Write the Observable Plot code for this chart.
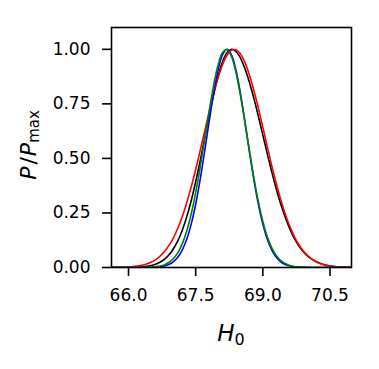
<!DOCTYPE html>
<html>
<head>
<meta charset="utf-8">
<script src="https://cdn.jsdelivr.net/npm/d3@7"></script>
<script src="https://cdn.jsdelivr.net/npm/@observablehq/plot@0.6"></script>
<style>
  html, body { margin: 0; padding: 0; background: #fff; }
</style>
</head>
<body>
<div id="chart"></div>
<script>
// H0 grid (x values)
const h0 = [65.6,65.7,65.8,65.9,66.0,66.1,66.2,66.3,66.4,66.5,66.6,66.7,66.8,66.9,67.0,67.1,67.2,67.3,67.4,67.5,
            67.6,67.7,67.8,67.9,68.0,68.1,68.2,68.3,68.4,68.5,68.6,68.7,68.8,68.9,69.0,69.1,69.2,69.3,69.4,69.5,
            69.6,69.7,69.8,69.9,70.0,70.1,70.2,70.3,70.4,70.5,70.6,70.7,70.8,70.9,71.0];

// P/Pmax for each curve
const blackCurve = [0,0,0,0.0002,0.0004,0.0008,0.0016,0.0029,0.0051,0.0088,0.0147,0.024,0.037,0.057,0.085,0.122,0.171,0.232,0.306,0.393,
                    0.489,0.591,0.694,0.792,0.877,0.943,0.985,1.0,0.990,0.960,0.912,0.849,0.775,0.693,0.607,0.520,0.438,0.360,0.291,0.230,
                    0.178,0.135,0.101,0.073,0.052,0.037,0.025,0.017,0.011,0.0072,0.0045,0.0028,0.0017,0.0010,0.0006];
const redCurve   = [0.0003,0.0005,0.0008,0.0014,0.0024,0.0040,0.0064,0.010,0.016,0.024,0.035,0.051,0.072,0.100,0.135,0.180,0.233,0.297,0.369,0.449,
                    0.535,0.624,0.712,0.795,0.869,0.930,0.973,0.996,0.998,0.979,0.940,0.882,0.811,0.730,0.642,0.553,0.466,0.385,0.311,0.245,
                    0.190,0.143,0.106,0.077,0.055,0.038,0.026,0.017,0.011,0.0071,0.0044,0.0027,0.0016,0.0009,0.0005];
const blueCurve  = [0,0,0,0,0,0,0,0,0.0003,0.0007,0.0016,0.0034,0.0071,0.014,0.026,0.047,0.080,0.129,0.199,0.290,
                    0.403,0.532,0.668,0.797,0.904,0.975,1.0,0.975,0.904,0.797,0.668,0.532,0.403,0.290,0.199,0.129,0.080,0.047,0.026,0.014,
                    0.0071,0.0034,0.0016,0.0007,0.0003,0,0,0,0,0,0,0,0,0,0];
const greenCurve = [0,0,0,0,0,0,0,0.0003,0.0007,0.0015,0.0031,0.0063,0.012,0.023,0.040,0.067,0.108,0.167,0.245,0.343,
                    0.459,0.587,0.716,0.834,0.928,0.985,0.999,0.967,0.894,0.789,0.665,0.535,0.411,0.302,0.211,0.141,0.090,0.055,0.032,0.018,
                    0.0094,0.0048,0.0023,0.0011,0.0005,0.0002,0,0,0,0,0,0,0,0,0];

const seriesNames  = ["black", "red", "blue", "green"];
const seriesValues = [blackCurve, redCurve, blueCurve, greenCurve];
const seriesColors = ["#000000", "#ff0000", "#0000ff", "#008000"];

const xTicks = [66.0, 67.5, 69.0, 70.5];
const yTicks = [0, 0.25, 0.5, 0.75, 1.0];

const rows = [];
seriesNames.forEach((name, i) => {
  h0.forEach((x, j) => rows.push({series: name, x, y: seriesValues[i][j]}));
});

const W = 379, H = 369;
const chart = Plot.plot({
  width: W,
  height: H,
  marginLeft: 111,
  marginRight: 28,
  marginTop: 27,
  marginBottom: 102,
  style: {fontFamily: "DejaVu Sans", fontSize: "17px", color: "#000", background: "#fff"},
  x: {domain: [65.62, 70.98]},
  y: {domain: [0, 1.1]},
  color: {domain: seriesNames, range: seriesColors},
  marks: [
    Plot.line(rows, {x: "x", y: "y", z: "series", stroke: "series", strokeWidth: 1.6, curve: "catmull-rom", clip: true}),
    Plot.frame({stroke: "#000", strokeWidth: 1.6}),
    Plot.axisX({ticks: xTicks, tickFormat: d => d.toFixed(1), tickSize: 9, tickPadding: 12, strokeWidth: 1.6, label: null, fontSize: 17}),
    Plot.axisY({ticks: yTicks, tickFormat: d => d.toFixed(2), tickSize: 9, tickPadding: 12, strokeWidth: 1.6, label: null, fontSize: 17})
  ]
});

const svg = d3.select(chart);
// x label: H_0
const xl = svg.append("text")
  .attr("x", 231).attr("y", 341)
  .attr("text-anchor", "middle")
  .attr("font-family", "DejaVu Sans")
  .attr("font-size", 23)
  .attr("fill", "#000");
xl.append("tspan").attr("font-style", "italic").text("H");
xl.append("tspan").attr("font-size", 16).attr("dy", 4).text("0");

// y label: P / P_max
const yl = svg.append("text")
  .attr("transform", "translate(36,145) rotate(-90)")
  .attr("text-anchor", "middle")
  .attr("font-family", "DejaVu Sans")
  .attr("font-size", 22)
  .attr("fill", "#000");
yl.append("tspan").attr("font-style", "italic").text("P");
yl.append("tspan").attr("dx", 2).text("/");
yl.append("tspan").attr("dx", 1).attr("font-style", "italic").text("P");
yl.append("tspan").attr("font-size", 15).attr("dy", 3).text("max");

document.getElementById("chart").appendChild(chart);
</script>
</body>
</html>
